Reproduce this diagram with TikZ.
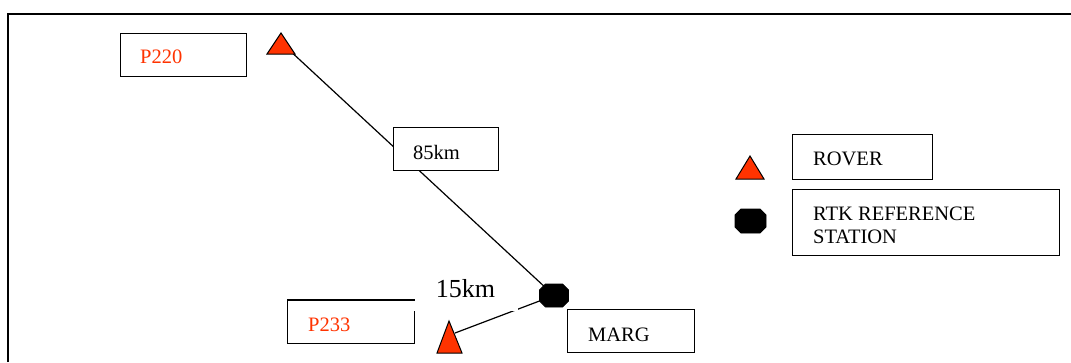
\documentclass[tikz,border=0pt]{standalone}
\usepackage{fontspec}
\setmainfont{Liberation Serif}
\definecolor{roverred}{RGB}{255,51,0}
\tikzset{
  box/.style={draw=black, line width=1.2pt, fill=white, inner sep=0pt, anchor=north west},
  lbl/.style={inner sep=0pt, anchor=base west, font=\fontsize{20.5}{24.6}\selectfont},
  link/.style={draw=black, line width=1.2pt},
  rovertri/.style={fill=roverred, draw=black, line width=1pt, line join=miter},
  refoct/.style={fill=black, draw=black, line width=0.8pt},
}
\begin{document}
\begin{tikzpicture}[x=1pt,y=-1pt]
\useasboundingbox (0,0) rectangle (1071,362);
% outer frame (cut off at right and bottom)
\draw[line width=1.5pt] (8,362) -- (8,14) -- (1071,14);
% station positions
\coordinate (t1) at (287,48);
\coordinate (oct) at (554,295.5);
\coordinate (t2) at (455,333);
\coordinate (legoct) at (750.5,221);
% connectors
\draw[link] (t1) -- (oct);
\draw[link] (t2) -- (oct);
% boxes
\node[box, minimum width=126pt, minimum height=43pt] (p220box) at (120,33) {};
\node[box, minimum width=105pt, minimum height=43pt] (d85box) at (393,127) {};
\node[box, minimum width=127pt, minimum height=43pt] (p233box) at (287,300) {};
\node[fill=white, inner sep=0pt, minimum width=104pt, minimum height=44pt,
      font=\fontsize{26}{30}\selectfont] (d15) at (465.5,289) {15km};
\draw[line width=1.2pt] (p233box.north west) -- (p233box.north east);
\node[box, minimum width=127pt, minimum height=43pt] (margbox) at (567,309) {};
\node[box, minimum width=140pt, minimum height=45pt] (roverbox) at (792,134) {};
\node[box, minimum width=267pt, minimum height=66pt] (rtkbox) at (792,189) {};
% rover triangles
\draw[rovertri] (281,33) -- (295,54) -- (267,54) -- cycle;
\draw[rovertri] (449,321) -- (462,353) -- (437,353) -- cycle;
\draw[rovertri] (750,156) -- (764,179) -- (736,179) -- cycle;
% reference station octagons
\filldraw[refoct] (oct) ++(-14.5,-5.5) -- ++(6,-6) -- ++(17,0) -- ++(6,6)
  -- ++(0,11) -- ++(-6,6) -- ++(-17,0) -- ++(-6,-6) -- cycle;
\filldraw[refoct] (legoct) ++(-15.5,-6) -- ++(6,-6) -- ++(19,0) -- ++(6,6)
  -- ++(0,12) -- ++(-6,6) -- ++(-19,0) -- ++(-6,-6) -- cycle;
% labels
\node[lbl, text=roverred] (p220) at (140,63) {P220};
\node[lbl] (d85) at (413,159) {85km};
\node[lbl, text=roverred] (p233) at (308,331) {P233};
\node[lbl] (marg) at (588,341) {MARG};
\node[lbl] (rover) at (813,165.7) {ROVER};
\node[lbl] (rtk1) at (813,220) {RTK REFERENCE};
\node[lbl] (rtk2) at (813,243.3) {STATION};
\end{tikzpicture}
\end{document}
